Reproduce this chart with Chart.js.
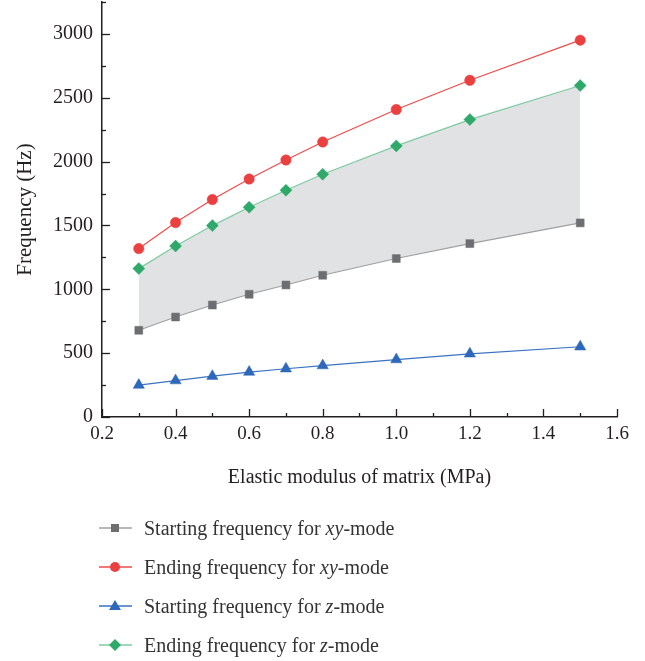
<!DOCTYPE html>
<html>
<head>
<meta charset="utf-8">
<script src="https://cdn.jsdelivr.net/npm/chart.js@4.4.1/dist/chart.umd.min.js"></script>
<style>
  html, body { margin: 0; padding: 0; background: #fff; }
  #wrap { position: relative; width: 645px; height: 661px; }
  #box { position: absolute; left: 0; top: 0; width: 645px; height: 500px; }
  #legend { position: absolute; left: 0; top: 0; width: 645px; height: 661px; pointer-events: none; }
  .item { position: absolute; left: 98px; height: 24px; display: flex; align-items: center;
          font-family: "Liberation Serif", "DejaVu Serif", serif; font-size: 20px; color: #333; }
  .item svg { margin-right: 11px; }
</style>
</head>
<body>
<div id="wrap">
  <div id="box"><canvas id="grafico"></canvas></div>
  <div id="legend"></div>
</div>
<script>
// ===== DADOS =====
const modulo = [0.3, 0.4, 0.5, 0.6, 0.7, 0.8, 1.0, 1.2, 1.5];
const inicioXY = [679, 783, 877, 961, 1034, 1110, 1241, 1358, 1520];
const fimXY = [1319, 1523, 1703, 1864, 2013, 2154, 2408, 2637, 2951];
const inicioZ = [250, 285, 320, 352, 378, 403, 450, 495, 550];
const fimZ = [1162, 1339, 1499, 1643, 1776, 1901, 2123, 2329, 2596];
const nomes = [
    'Starting frequency for <i>xy</i>-mode',
    'Ending frequency for <i>xy</i>-mode',
    'Starting frequency for <i>z</i>-mode',
    'Ending frequency for <i>z</i>-mode'
];

const fonte = "'Liberation Serif', 'DejaVu Serif', serif";
const corTexto = '#231f20';

const pares = (ys) => modulo.map((x, i) => ({ x: x, y: ys[i] }));

// ===== SERIES =====
const series = [
    { data: inicioXY, line: '#a0a0a0', point: '#6d6e71', style: 'rect', radius: 5.6 },
    { data: fimXY, line: '#ee4b4b', point: '#ea4040', style: 'circle', radius: 5.2 },
    { data: inicioZ, line: '#3a72c2', point: '#2e68bb', style: 'triangle', radius: 6.5 },
    { data: fimZ, line: '#7fcaa3', point: '#2ea96a', style: 'rectRot', radius: 6 }
];

// ===== TICKS PARA DENTRO =====
const ticksInternos = {
    id: 'ticksInternos',
    afterDraw(chart) {
        const ctx = chart.ctx;
        const area = chart.chartArea;
        const sx = chart.scales.x;
        const sy = chart.scales.y;
        ctx.save();
        ctx.strokeStyle = corTexto;
        ctx.lineWidth = 1.3;
        sy.ticks.forEach(t => {
            const y = Math.round(sy.getPixelForValue(t.value)) + 0.5;
            const len = (Math.round(t.value) % 500 === 0) ? 8 : 4;
            ctx.beginPath();
            ctx.moveTo(area.left, y);
            ctx.lineTo(area.left + len, y);
            ctx.stroke();
        });
        sx.ticks.forEach((t, i) => {
            const x = Math.round(sx.getPixelForValue(t.value)) + 0.5;
            const len = (i % 2 === 0) ? 8 : 4;
            ctx.beginPath();
            ctx.moveTo(x, area.bottom);
            ctx.lineTo(x, area.bottom - len);
            ctx.stroke();
        });
        ctx.restore();
    }
};

new Chart(document.getElementById('grafico'), {
    type: 'line',
    data: {
        datasets: series.map((s, i) => ({
            label: nomes[i].replace(/<\/?i>/g, ''),
            data: pares(s.data),
            borderColor: s.line,
            borderWidth: 1.2,
            backgroundColor: i === 3 ? '#e1e2e4' : s.point,
            pointBackgroundColor: s.point,
            pointBorderColor: s.point,
            pointBorderWidth: 0.5,
            pointStyle: s.style,
            pointRadius: s.radius,
            tension: 0,
            fill: i === 3 ? 0 : false
        }))
    },
    options: {
        responsive: true,
        maintainAspectRatio: false,
        animation: false,
        layout: { autoPadding: false, padding: { top: 2, right: 28, left: 0, bottom: 0 } },
        plugins: { legend: { display: false }, tooltip: { enabled: false } },
        scales: {
            x: {
                type: 'linear',
                min: 0.2,
                max: 1.6,
                afterFit: (s) => { s.height = 83; s.paddingLeft = 0; s.paddingRight = 0; },
                grid: { drawOnChartArea: false, drawTicks: false },
                border: { color: corTexto, width: 1.5 },
                ticks: {
                    stepSize: 0.1,
                    autoSkip: false,
                    maxRotation: 0,
                    padding: 6,
                    color: corTexto,
                    font: { family: fonte, size: 19 },
                    callback: (v, i) => (i % 2 === 0 ? Number(v).toFixed(1) : '')
                },
                title: {
                    display: true,
                    text: 'Elastic modulus of matrix (MPa)',
                    color: corTexto,
                    font: { family: fonte, size: 20 },
                    padding: { top: 0, bottom: 10 }
                }
            },
            y: {
                min: 0,
                max: 3250,
                afterFit: (s) => { s.width = 102; s.paddingTop = 0; s.paddingBottom = 0; },
                grid: { drawOnChartArea: false, drawTicks: false },
                border: { color: corTexto, width: 1.5 },
                ticks: {
                    stepSize: 250,
                    autoSkip: false,
                    padding: 9,
                    color: corTexto,
                    font: { family: fonte, size: 20 },
                    callback: (v) => (Math.round(v) % 500 === 0 ? String(v) : '')
                },
                title: {
                    display: true,
                    text: 'Frequency (Hz)',
                    color: corTexto,
                    font: { family: fonte, size: 21 },
                    padding: { top: 13, bottom: 0 }
                }
            }
        }
    },
    plugins: [ticksInternos]
});

// ===== LEGENDA =====
const legenda = document.getElementById('legend');
const topos = [528, 567, 606, 645];
const marcador = (s) => {
    const c = s.point;
    let m = '';
    if (s.style === 'rect') m = `<rect x="13" y="5" width="8" height="8" fill="${c}"/>`;
    if (s.style === 'circle') m = `<circle cx="17" cy="9" r="5" fill="${c}"/>`;
    if (s.style === 'triangle') m = `<polygon points="17,3 23,13 11,13" fill="${c}"/>`;
    if (s.style === 'rectRot') m = `<polygon points="17,3 23,9 17,15 11,9" fill="${c}"/>`;
    return `<svg width="35" height="18"><line x1="1" y1="9" x2="34" y2="9" stroke="${s.line}" stroke-width="1.5"/>${m}</svg>`;
};
series.forEach((s, i) => {
    const d = document.createElement('div');
    d.className = 'item';
    d.style.top = (topos[i] - 12) + 'px';
    d.innerHTML = marcador(s) + '<span>' + nomes[i] + '</span>';
    legenda.appendChild(d);
});
</script>
</body>
</html>
